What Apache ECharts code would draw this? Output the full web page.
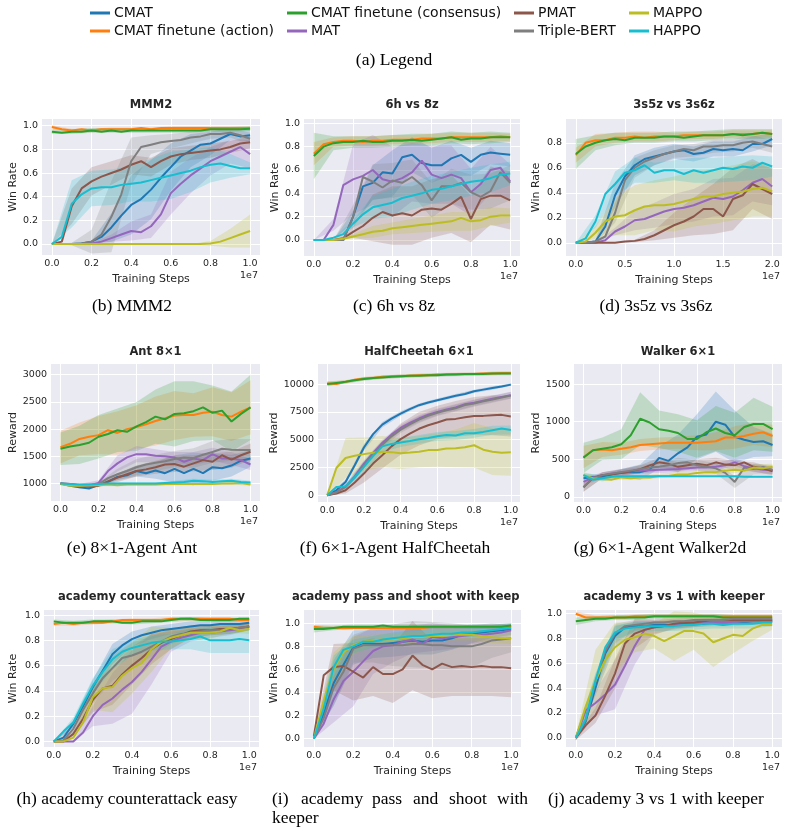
<!DOCTYPE html>
<html><head><meta charset="utf-8">
<script src="https://cdn.jsdelivr.net/npm/echarts@6/dist/echarts.min.js"></script>
<style>html,body{margin:0;padding:0;background:#fff}#c{width:788px;height:834px}</style>
</head><body><div id="c"></div>
<script>
// ---------- categories / ticks ----------
const seriesNames = ['CMAT','CMAT finetune (action)','CMAT finetune (consensus)','MAT','PMAT','Triple-BERT','MAPPO','HAPPO'];
const stepsShort = [0,0.05,0.1,0.15,0.2,0.25,0.3,0.35,0.4,0.45,0.5,0.55,0.6,0.65,0.7,0.75,0.8,0.85,0.9,0.95,1.0];
const stepsLong  = [0,0.1,0.2,0.3,0.4,0.5,0.6,0.7,0.8,0.9,1.0,1.1,1.2,1.3,1.4,1.5,1.6,1.7,1.8,1.9,2.0];
const xTicksShort = [0,0.2,0.4,0.6,0.8,1.0];
const xTicksLong = [0,0.5,1.0,1.5,2.0];
const winTicks = [0,0.2,0.4,0.6,0.8,1.0];
const winTicks08 = [0,0.2,0.4,0.6,0.8];
const antTicks = [1000,1500,2000,2500,3000];
const cheetahTicks = [0,2500,5000,7500,10000];
const walkerTicks = [0,500,1000,1500];

// ---------- series values (order = seriesNames) ----------
const mmm2Mean = [
 [0,0,0,0.005,0.02,0.06,0.14,0.24,0.33,0.38,0.46,0.56,0.65,0.74,0.79,0.84,0.85,0.89,0.93,0.91,0.92],
 [0.99,0.97,0.96,0.97,0.96,0.97,0.97,0.97,0.97,0.98,0.97,0.98,0.98,0.98,0.98,0.98,0.98,0.98,0.98,0.98,0.98],
 [0.95,0.94,0.95,0.95,0.96,0.95,0.96,0.95,0.96,0.96,0.96,0.96,0.96,0.96,0.96,0.96,0.97,0.97,0.97,0.97,0.975],
 [0,0,0,0,0.005,0.02,0.05,0.08,0.11,0.1,0.15,0.25,0.43,0.51,0.58,0.64,0.7,0.74,0.78,0.82,0.76],
 [0,0.02,0.32,0.47,0.53,0.57,0.6,0.63,0.67,0.7,0.65,0.7,0.74,0.76,0.77,0.78,0.79,0.8,0.82,0.85,0.86],
 [0,0,0,0.005,0.02,0.08,0.23,0.42,0.7,0.82,0.84,0.86,0.87,0.88,0.9,0.91,0.93,0.93,0.94,0.92,0.89],
 [0,0,0,0,0,0,0,0,0,0,0,0,0,0,0,0,0.005,0.02,0.05,0.08,0.11],
 [0,0.06,0.34,0.42,0.47,0.48,0.48,0.5,0.51,0.52,0.54,0.56,0.58,0.6,0.62,0.65,0.67,0.68,0.66,0.64,0.64]
];
const mmm2Sd = [
 [0,0,0.01,0.12,0.25,0.25,0.2,0.14,0.1,0.05,0.05],
 [0.015,0.015,0.015,0.015,0.015,0.015,0.015,0.015,0.015,0.015,0.015],
 [0.02,0.02,0.02,0.02,0.02,0.02,0.02,0.02,0.02,0.02,0.02],
 [0,0,0.005,0.03,0.08,0.1,0.18,0.15,0.12,0.1,0.12],
 [0,0.15,0.12,0.1,0.08,0.08,0.07,0.06,0.06,0.05,0.05],
 [0,0.01,0.1,0.3,0.2,0.08,0.06,0.05,0.04,0.04,0.05],
 [0,0,0,0,0,0,0,0,0.02,0.08,0.14],
 [0,0.2,0.15,0.15,0.15,0.18,0.2,0.18,0.15,0.1,0.05]
];
const h6z8Mean = [
 [0,0,0,0,0.2,0.46,0.49,0.58,0.57,0.71,0.73,0.66,0.64,0.64,0.7,0.73,0.67,0.73,0.75,0.74,0.73],
 [0.74,0.82,0.84,0.85,0.85,0.84,0.85,0.85,0.86,0.86,0.86,0.87,0.87,0.87,0.88,0.88,0.88,0.88,0.88,0.89,0.88],
 [0.72,0.8,0.83,0.84,0.84,0.85,0.84,0.84,0.85,0.85,0.86,0.85,0.86,0.87,0.88,0.86,0.87,0.87,0.88,0.88,0.88],
 [0,0,0.13,0.47,0.52,0.55,0.6,0.52,0.5,0.53,0.58,0.68,0.56,0.53,0.56,0.53,0.41,0.48,0.6,0.62,0.5],
 [0,0,0,0.015,0.07,0.12,0.19,0.24,0.21,0.23,0.21,0.26,0.27,0.26,0.31,0.37,0.18,0.35,0.38,0.38,0.34],
 [0,0,0,0,0.2,0.54,0.5,0.45,0.51,0.49,0.54,0.47,0.34,0.46,0.46,0.49,0.41,0.37,0.42,0.58,0.49],
 [0,0,0,0.01,0.03,0.05,0.07,0.08,0.1,0.11,0.12,0.13,0.14,0.15,0.16,0.19,0.16,0.17,0.2,0.21,0.21],
 [0,0,0.02,0.05,0.14,0.22,0.28,0.3,0.32,0.36,0.38,0.4,0.43,0.44,0.46,0.48,0.5,0.51,0.53,0.56,0.57]
];
const h6z8Sd = [
 [0,0,0.05,0.15,0.2,0.15,0.15,0.15,0.12,0.1,0.1],
 [0.1,0.04,0.04,0.04,0.04,0.04,0.04,0.04,0.04,0.04,0.03],
 [0.2,0.06,0.05,0.05,0.05,0.05,0.05,0.05,0.05,0.05,0.04],
 [0,0.05,0.3,0.3,0.3,0.25,0.25,0.25,0.2,0.2,0.15],
 [0,0,0.05,0.2,0.25,0.25,0.25,0.25,0.2,0.25,0.25],
 [0,0,0.1,0.15,0.15,0.15,0.15,0.15,0.15,0.15,0.15],
 [0,0,0.02,0.05,0.05,0.06,0.07,0.08,0.08,0.08,0.06],
 [0,0,0.03,0.1,0.12,0.12,0.12,0.12,0.12,0.12,0.1]
];
const s5z6Mean = [
 [0,0,0.01,0.13,0.38,0.53,0.62,0.67,0.69,0.71,0.73,0.74,0.71,0.72,0.75,0.74,0.75,0.74,0.79,0.79,0.83],
 [0.70,0.80,0.82,0.82,0.84,0.84,0.85,0.84,0.85,0.85,0.85,0.86,0.86,0.86,0.86,0.86,0.87,0.87,0.87,0.88,0.87],
 [0.71,0.77,0.80,0.82,0.83,0.82,0.84,0.84,0.84,0.85,0.85,0.84,0.85,0.86,0.86,0.86,0.87,0.86,0.87,0.88,0.87],
 [0,0,0,0.02,0.09,0.13,0.18,0.19,0.22,0.25,0.27,0.28,0.3,0.33,0.36,0.35,0.37,0.42,0.48,0.51,0.45],
 [0,0,0,0,0,0.01,0.015,0.03,0.06,0.1,0.14,0.17,0.21,0.27,0.27,0.21,0.35,0.38,0.47,0.43,0.39],
 [0,0,0.01,0.05,0.24,0.5,0.6,0.65,0.68,0.71,0.73,0.75,0.74,0.77,0.77,0.78,0.78,0.8,0.81,0.79,0.77],
 [0,0.01,0.08,0.17,0.21,0.22,0.26,0.29,0.3,0.3,0.31,0.33,0.35,0.37,0.37,0.39,0.4,0.41,0.43,0.44,0.41],
 [0,0.035,0.17,0.39,0.47,0.56,0.58,0.62,0.56,0.58,0.58,0.55,0.58,0.56,0.58,0.6,0.59,0.61,0.6,0.64,0.61]
];
const s5z6Sd = [
 [0,0.01,0.1,0.08,0.07,0.06,0.06,0.06,0.06,0.06,0.05],
 [0.06,0.05,0.04,0.04,0.04,0.03,0.03,0.03,0.03,0.03,0.03],
 [0.12,0.06,0.05,0.04,0.04,0.04,0.04,0.04,0.04,0.04,0.04],
 [0,0,0.03,0.08,0.1,0.12,0.13,0.15,0.15,0.15,0.15],
 [0,0,0,0.01,0.04,0.1,0.15,0.2,0.25,0.2,0.2],
 [0,0.01,0.08,0.08,0.06,0.05,0.05,0.05,0.05,0.05,0.05],
 [0,0.05,0.15,0.2,0.2,0.22,0.22,0.22,0.22,0.22,0.2],
 [0,0.05,0.1,0.1,0.08,0.08,0.1,0.1,0.1,0.1,0.08]
];
const antMean = [
 [1000,960,930,910,970,1030,1120,1150,1230,1190,1240,1190,1270,1190,1270,1190,1300,1280,1330,1420,1460],
 [1670,1730,1820,1860,1890,1980,1930,2000,2040,2090,2150,2200,2250,2260,2260,2300,2320,2260,2230,2320,2400],
 [1640,1680,1710,1750,1860,1910,1980,1950,2050,2130,2230,2180,2280,2290,2330,2400,2300,2340,2140,2280,2400],
 [1000,990,970,960,1010,1230,1370,1480,1540,1540,1510,1500,1480,1400,1460,1430,1540,1460,1460,1430,1350],
 [1000,990,960,940,960,1040,1110,1170,1230,1260,1300,1350,1360,1310,1370,1430,1400,1520,1440,1520,1585],
 [1000,980,960,950,990,1100,1170,1230,1300,1350,1380,1410,1450,1480,1470,1530,1580,1640,1620,1615,1615],
 [990,960,960,970,970,980,970,980,980,980,980,990,990,990,990,990,990,1000,1000,1010,980],
 [1000,990,980,980,990,1000,1000,1000,1000,1000,1000,1010,1020,1030,1050,1040,1030,1040,1050,1030,1020]
];
const antSd = [
 [10,20,30,60,100,150,250,300,250,200,150],
 [300,300,350,400,400,450,450,400,450,450,500],
 [300,350,400,400,450,500,600,550,500,550,600],
 [10,20,50,150,150,120,100,120,120,120,100],
 [10,30,30,80,100,120,150,150,150,150,150],
 [10,30,30,100,150,150,150,180,200,200,200],
 [20,20,20,20,20,20,20,20,20,20,20],
 [10,20,20,20,20,20,30,40,40,40,30]
];
const cheetahMean = [
 [0,450,1200,2700,4300,5500,6350,6900,7350,7750,8100,8350,8550,8750,8950,9100,9350,9500,9650,9780,9950],
 [10050,10000,10200,10400,10500,10550,10650,10700,10700,10750,10800,10800,10850,10850,10900,10900,10900,10950,10950,11000,11000],
 [10000,10100,10200,10350,10450,10550,10600,10650,10700,10750,10750,10800,10800,10850,10850,10900,10900,10900,10950,10950,10950],
 [0,270,800,1700,2850,3800,4700,5450,6050,6500,6900,7250,7500,7720,7900,8180,8320,8500,8680,8850,9000],
 [0,150,450,1150,1950,2850,3600,4400,5050,5550,5980,6300,6550,6820,6870,7020,7130,7140,7200,7230,7080],
 [0,250,750,1600,2700,3650,4550,5300,5900,6380,6800,7150,7420,7650,7830,8120,8260,8450,8620,8800,8980],
 [0,2450,3350,3550,3700,3830,3920,3880,3770,3840,3920,4060,4070,4200,4220,4320,4500,4100,3920,3830,3860],
 [0,750,800,1600,2550,3550,4400,4620,4750,4880,5030,5150,5300,5420,5370,5570,5570,5700,5850,6000,5870]
];
const cheetahSd = [
 [50,200,300,250,200,150,150,150,150,150,100],
 [200,150,150,150,150,150,150,150,150,150,150],
 [200,150,150,150,150,150,150,150,150,150,150],
 [50,200,300,300,300,300,300,300,300,300,300],
 [50,300,800,1200,1400,1500,1500,1600,1700,1800,1800],
 [50,200,300,300,300,300,300,300,300,300,300],
 [50,1800,1500,1400,1400,1400,1500,1700,2000,2100,2100],
 [50,200,500,500,400,400,400,400,400,400,400]
];
const walkerMean = [
 [250,265,270,300,320,330,330,360,520,480,580,660,800,830,1000,960,800,760,730,740,690],
 [530,620,630,620,640,660,690,700,710,720,720,720,720,730,740,790,790,810,840,860,810],
 [520,620,640,660,700,820,1040,990,900,880,850,770,770,860,910,850,820,930,970,970,900],
 [200,260,290,310,330,340,350,355,360,365,370,380,390,390,400,420,460,410,380,360,355],
 [130,250,290,300,320,340,370,420,460,440,400,420,440,420,460,430,420,460,400,380,340],
 [130,250,290,310,330,350,370,390,400,420,450,460,420,400,380,320,200,390,370,400,360],
 [290,250,240,230,260,250,260,260,280,280,300,300,320,330,330,350,360,350,390,380,400],
 [290,230,250,270,275,275,275,275,275,275,275,275,275,275,275,275,275,270,270,270,270]
];
const walkerSd = [
 [50,30,50,100,150,250,300,400,350,200,150],
 [150,100,80,80,80,80,100,120,150,150,150],
 [200,150,200,350,250,250,250,300,300,350,300],
 [50,40,40,40,40,40,40,50,50,50,50],
 [60,40,40,50,60,60,60,60,60,60,50],
 [60,40,40,50,60,70,70,70,80,70,60],
 [40,30,30,30,30,30,30,30,40,40,40],
 [30,40,10,10,10,10,10,10,10,10,10]
];
const counterMean = [
 [0,0.03,0.14,0.28,0.43,0.56,0.69,0.76,0.81,0.84,0.86,0.88,0.89,0.9,0.91,0.92,0.92,0.93,0.93,0.93,0.94],
 [0.93,0.94,0.93,0.94,0.94,0.94,0.95,0.96,0.96,0.96,0.96,0.96,0.97,0.97,0.97,0.97,0.97,0.97,0.97,0.96,0.96],
 [0.95,0.94,0.94,0.94,0.95,0.95,0.95,0.94,0.94,0.95,0.95,0.95,0.96,0.97,0.97,0.96,0.96,0.96,0.96,0.97,0.97],
 [0,0,0,0.07,0.2,0.29,0.34,0.41,0.47,0.55,0.65,0.75,0.79,0.82,0.84,0.86,0.86,0.87,0.88,0.89,0.91],
 [0,0,0.06,0.18,0.33,0.42,0.44,0.53,0.6,0.66,0.73,0.78,0.81,0.84,0.87,0.88,0.88,0.89,0.89,0.9,0.91],
 [0,0.01,0.1,0.25,0.38,0.5,0.58,0.66,0.68,0.71,0.75,0.79,0.83,0.85,0.86,0.87,0.88,0.88,0.89,0.9,0.91],
 [0,0,0.03,0.15,0.35,0.42,0.43,0.52,0.58,0.62,0.73,0.79,0.82,0.84,0.86,0.86,0.86,0.87,0.9,0.88,0.89],
 [0,0.08,0.15,0.3,0.44,0.55,0.65,0.71,0.74,0.76,0.78,0.79,0.79,0.8,0.81,0.83,0.8,0.8,0.8,0.81,0.8]
];
const counterSd = [
 [0,0.03,0.06,0.08,0.06,0.05,0.04,0.04,0.03,0.03,0.03],
 [0.015,0.015,0.015,0.015,0.015,0.015,0.015,0.015,0.015,0.015,0.015],
 [0.015,0.015,0.015,0.015,0.015,0.015,0.015,0.015,0.015,0.015,0.015],
 [0,0,0.08,0.2,0.25,0.2,0.08,0.05,0.04,0.04,0.03],
 [0,0.02,0.1,0.15,0.15,0.12,0.08,0.05,0.04,0.04,0.03],
 [0,0.03,0.08,0.1,0.1,0.08,0.06,0.04,0.04,0.04,0.03],
 [0,0.01,0.1,0.2,0.2,0.18,0.08,0.05,0.05,0.04,0.04],
 [0,0.04,0.06,0.08,0.06,0.06,0.06,0.08,0.1,0.1,0.1]
];
const passMean = [
 [0,0.22,0.48,0.64,0.79,0.83,0.82,0.82,0.83,0.84,0.85,0.84,0.85,0.85,0.87,0.9,0.91,0.92,0.93,0.94,0.95],
 [0.97,0.96,0.96,0.96,0.96,0.96,0.96,0.96,0.96,0.96,0.96,0.96,0.97,0.97,0.97,0.97,0.97,0.97,0.97,0.97,0.97],
 [0.95,0.95,0.96,0.97,0.97,0.97,0.97,0.98,0.97,0.97,0.97,0.97,0.97,0.97,0.97,0.97,0.97,0.97,0.97,0.97,0.98],
 [0,0.13,0.34,0.5,0.58,0.67,0.76,0.8,0.81,0.84,0.86,0.82,0.88,0.87,0.88,0.89,0.9,0.9,0.91,0.92,0.94],
 [0.02,0.55,0.62,0.63,0.58,0.53,0.62,0.56,0.56,0.6,0.72,0.64,0.6,0.65,0.62,0.63,0.62,0.63,0.62,0.62,0.61],
 [0,0.18,0.44,0.58,0.78,0.81,0.81,0.81,0.81,0.81,0.82,0.82,0.81,0.81,0.8,0.8,0.8,0.82,0.85,0.86,0.87],
 [0,0.33,0.6,0.75,0.81,0.84,0.85,0.86,0.86,0.87,0.88,0.88,0.89,0.89,0.9,0.9,0.9,0.89,0.88,0.87,0.87],
 [0,0.26,0.62,0.77,0.8,0.84,0.84,0.86,0.87,0.88,0.89,0.89,0.9,0.91,0.91,0.92,0.92,0.93,0.94,0.95,0.96]
];
const passSd = [
 [0,0.2,0.15,0.12,0.12,0.12,0.12,0.1,0.08,0.06,0.05],
 [0.015,0.015,0.015,0.015,0.015,0.015,0.015,0.015,0.015,0.015,0.015],
 [0.03,0.02,0.02,0.02,0.02,0.02,0.02,0.02,0.02,0.02,0.02],
 [0,0.2,0.3,0.2,0.15,0.12,0.12,0.1,0.08,0.06,0.05],
 [0.02,0.2,0.25,0.25,0.25,0.3,0.25,0.25,0.25,0.25,0.25],
 [0,0.15,0.12,0.15,0.18,0.2,0.2,0.2,0.18,0.15,0.12],
 [0,0.15,0.08,0.05,0.05,0.05,0.05,0.05,0.05,0.05,0.05],
 [0,0.1,0.06,0.05,0.05,0.05,0.05,0.04,0.04,0.04,0.03]
];
const keeperMean = [
 [0,0.13,0.4,0.68,0.82,0.89,0.9,0.9,0.91,0.91,0.91,0.92,0.92,0.92,0.93,0.93,0.93,0.93,0.94,0.94,0.94],
 [1.0,0.97,0.97,0.97,0.97,0.97,0.98,0.98,0.98,0.98,0.98,0.98,0.98,0.98,0.98,0.98,0.98,0.98,0.98,0.98,0.98],
 [0.94,0.95,0.96,0.96,0.97,0.97,0.97,0.97,0.98,0.98,0.98,0.98,0.98,0.98,0.98,0.97,0.97,0.97,0.97,0.97,0.97],
 [0,0.22,0.28,0.35,0.43,0.58,0.74,0.87,0.89,0.9,0.91,0.91,0.92,0.93,0.93,0.93,0.93,0.94,0.94,0.94,0.94],
 [0,0.1,0.18,0.34,0.52,0.76,0.84,0.87,0.89,0.9,0.92,0.93,0.93,0.94,0.95,0.95,0.95,0.95,0.95,0.95,0.95],
 [0,0.14,0.45,0.7,0.84,0.9,0.91,0.92,0.93,0.93,0.94,0.94,0.95,0.95,0.95,0.95,0.96,0.96,0.96,0.96,0.96],
 [0,0.25,0.46,0.63,0.73,0.79,0.81,0.84,0.82,0.78,0.82,0.86,0.86,0.84,0.77,0.8,0.83,0.82,0.88,0.91,0.91],
 [0,0.15,0.46,0.73,0.85,0.88,0.89,0.9,0.9,0.9,0.9,0.91,0.91,0.92,0.92,0.91,0.92,0.92,0.92,0.93,0.93]
];
const keeperSd = [
 [0.02,0.06,0.08,0.04,0.03,0.03,0.03,0.02,0.02,0.02,0.02],
 [0.015,0.015,0.015,0.015,0.015,0.015,0.015,0.015,0.015,0.015,0.015],
 [0.03,0.02,0.02,0.02,0.02,0.02,0.02,0.02,0.02,0.02,0.02],
 [0.02,0.1,0.2,0.15,0.05,0.04,0.03,0.03,0.03,0.03,0.03],
 [0.02,0.06,0.12,0.12,0.06,0.04,0.03,0.02,0.02,0.02,0.02],
 [0.02,0.06,0.08,0.04,0.03,0.02,0.02,0.02,0.02,0.02,0.02],
 [0.02,0.25,0.2,0.12,0.1,0.2,0.15,0.2,0.15,0.1,0.04],
 [0.02,0.06,0.06,0.04,0.04,0.04,0.04,0.04,0.04,0.04,0.03]
];

// ---------- styling / layout ----------
const colors = ['#1f77b4','#ff7f0e','#2ca02c','#9467bd','#8c564b','#7f7f7f','#bcbd22','#17becf'];
const TXT = '#262626';
const panels = [
 {title:'MMM2', mean:mmm2Mean, sd:mmm2Sd, steps:stepsShort, xt:xTicksShort, yt:winTicks, yName:'Win Rate', dec:1,
  g:{left:42,top:119,width:218,height:136}, x:[-0.05,1.05], y:[-0.093,1.057], yGap:17, ty:105},
 {title:'6h vs 8z', mean:h6z8Mean, sd:h6z8Sd, steps:stepsShort, xt:xTicksShort, yt:winTicks, yName:'Win Rate', dec:1,
  g:{left:304,top:119,width:216,height:137}, x:[-0.05,1.05], y:[-0.137,1.037], yGap:21, ty:105},
 {title:'3s5z vs 3s6z', mean:s5z6Mean, sd:s5z6Sd, steps:stepsLong, xt:xTicksLong, yt:winTicks08, yName:'Win Rate', dec:1,
  g:{left:566,top:119,width:216,height:137}, x:[-0.1,2.1], y:[-0.106,0.99], yGap:24, ty:105},
 {title:'Ant 8×1', mean:antMean, sd:antSd, steps:stepsShort, xt:xTicksShort, yt:antTicks, yName:'Reward', dec:0,
  g:{left:51,top:364,width:209,height:137}, x:[-0.05,1.05], y:[679,3197], yGap:32, ty:352},
 {title:'HalfCheetah 6×1', mean:cheetahMean, sd:cheetahSd, steps:stepsShort, xt:xTicksShort, yt:cheetahTicks, yName:'Reward', dec:0,
  g:{left:318,top:364,width:202,height:138}, x:[-0.05,1.05], y:[-605,11805], yGap:35, ty:352},
 {title:'Walker 6×1', mean:walkerMean, sd:walkerSd, steps:stepsShort, xt:xTicksShort, yt:walkerTicks, yName:'Reward', dec:0,
  g:{left:574,top:364,width:208,height:138}, x:[-0.05,1.05], y:[-67,1767], yGap:32, ty:352},
 {title:'academy counterattack easy', mean:counterMean, sd:counterSd, steps:stepsShort, xt:xTicksShort, yt:winTicks, yName:'Win Rate', dec:1,
  g:{left:44,top:610,width:215,height:137}, x:[-0.05,1.05], y:[-0.044,1.04], yGap:25, ty:597},
 {title:'academy pass and shoot with keeper', mean:passMean, sd:passSd, steps:stepsShort, xt:xTicksShort, yt:winTicks, yName:'Win Rate', dec:1,
  g:{left:304,top:610,width:217,height:137}, x:[-0.05,1.05], y:[-0.072,1.115], yGap:24, ty:597, clipTitle:true},
 {title:'academy 3 vs 1 with keeper', mean:keeperMean, sd:keeperSd, steps:stepsShort, xt:xTicksShort, yt:winTicks, yName:'Win Rate', dec:1,
  g:{left:566,top:610,width:216,height:137}, x:[-0.05,1.05], y:[-0.074,1.03], yGap:24, ty:597}
];

const grids=[], xAxes=[], yAxes=[], series=[], titles=[], graphics=[];
panels.forEach((p,i)=>{
  grids.push(Object.assign({show:true, backgroundColor:'#EAEAF2', borderWidth:0}, p.g));
  xAxes.push({type:'value', gridIndex:i, min:p.x[0], max:p.x[1],
    axisLine:{show:false}, axisTick:{show:false, customValues:p.xt},
    axisLabel:{customValues:p.xt, formatter:v=>v.toFixed(1), color:TXT, fontSize:9.5, margin:4, fontFamily:'DejaVu Sans'},
    splitLine:{show:true, lineStyle:{color:'#ffffff', width:1}},
    name:'Training Steps', nameLocation:'middle', nameGap:19,
    nameTextStyle:{fontSize:11, color:TXT, fontFamily:'DejaVu Sans'}});
  yAxes.push({type:'value', gridIndex:i, min:p.y[0], max:p.y[1],
    axisLine:{show:false}, axisTick:{show:false, customValues:p.yt},
    axisLabel:{customValues:p.yt, formatter:v=>p.dec? v.toFixed(1): String(Math.round(v)), color:TXT, fontSize:9.5, margin:4, fontFamily:'DejaVu Sans'},
    splitLine:{show:true, lineStyle:{color:'#ffffff', width:1}},
    name:p.yName, nameLocation:'middle', nameGap:p.yGap,
    nameTextStyle:{fontSize:11, color:TXT, fontFamily:'DejaVu Sans'}});
  const cx = p.g.left + p.g.width/2;
  if (p.clipTitle) {
    titles.push({text:p.title, left:292, top:p.ty, textAlign:'left', textVerticalAlign:'middle', padding:0,
      textStyle:{fontSize:11.5, fontWeight:'bold', color:TXT, fontFamily:'DejaVu Sans', width:236, overflow:'truncate', ellipsis:''}});
  } else {
    titles.push({text:p.title, left:cx, top:p.ty, textAlign:'center', textVerticalAlign:'middle', padding:0,
      textStyle:{fontSize:11.5, fontWeight:'bold', color:TXT, fontFamily:'DejaVu Sans'}});
  }
  graphics.push({type:'text', x:p.g.left+p.g.width-2, y:p.g.top+p.g.height+21,
    style:{text:'1e7', fill:TXT, font:'9.5px "DejaVu Sans"', textAlign:'right', textVerticalAlign:'middle'}});
  // shaded bands (mean ± spread)
  p.mean.forEach((m,s)=>{
    const sd = p.sd[s];
    series.push({type:'custom', name:seriesNames[s]+' band', xAxisIndex:i, yAxisIndex:i, silent:true, z:1,
      data:[[ (p.x[0]+p.x[1])/2, (p.y[0]+p.y[1])/2 ]], encode:{x:0,y:1},
      renderItem:(params, api)=>{
        const up=[], lo=[];
        for (let k=0;k<sd.length;k++){
          const xv = p.steps[2*k], mv = m[2*k];
          up.push(api.coord([xv, mv+sd[k]]));
          lo.push(api.coord([xv, mv-sd[k]]));
        }
        const cs = params.coordSys;
        return {type:'polygon', shape:{points:up.concat(lo.reverse())},
          style:{fill:colors[s], opacity:0.22},
          clipPath:{type:'rect', shape:{x:cs.x, y:cs.y, width:cs.width, height:cs.height}}};
      }, animation:false});
  });
  // mean lines
  p.mean.forEach((m,s)=>{
    series.push({type:'line', name:seriesNames[s], xAxisIndex:i, yAxisIndex:i, z:2,
      data:p.steps.map((x,k)=>[x, m[k]]), showSymbol:false, symbol:'none',
      lineStyle:{width:2, color:colors[s]}, itemStyle:{color:colors[s]}, animation:false});
  });
});

// legend (4 columns x 2 rows, column-major like matplotlib)
const legendX = [90, 287, 514, 629];
const legendTop = [6, 24];
const legends = seriesNames.map((n,i)=>({
  data:[{name:n, itemStyle:{color:colors[i]}}], left:legendX[Math.floor(i/2)], top:legendTop[i%2],
  icon:'rect', itemWidth:20, itemHeight:3, padding:0, selectedMode:false,
  textStyle:{fontSize:14, color:'#111', fontFamily:'DejaVu Sans', padding:[0,0,0,-1]}
}));

// captions
const capFont = '17.5px "Liberation Serif"';
const captions = [
  ['(a) Legend',394,60], ['(b) MMM2',132,306], ['(c) 6h vs 8z',394,306], ['(d) 3s5z vs 3s6z',656,306],
  ['(e) 8×1-Agent Ant',132,548], ['(f) 6×1-Agent HalfCheetah',395,548], ['(g) 6×1-Agent Walker2d',660,548],
  ['(h) academy counterattack easy',127,799], ['(j) academy 3 vs 1 with keeper',656,799]
];
captions.forEach(c=>graphics.push({type:'text', x:c[1], y:c[2],
  style:{text:c[0], fill:'#000', font:capFont, textAlign:'center', textVerticalAlign:'middle'}}));
const capIWords = [['(i)',272],['academy',301],['pass',372],['and',413],['shoot',449],['with',497]];
capIWords.forEach(w=>graphics.push({type:'text', x:w[1], y:799,
  style:{text:w[0], fill:'#000', font:capFont, textAlign:'left', textVerticalAlign:'middle'}}));
graphics.push({type:'text', x:272, y:818, style:{text:'keeper', fill:'#000', font:capFont, textAlign:'left', textVerticalAlign:'middle'}});

const chart = echarts.init(document.getElementById('c'), null, {renderer:'canvas'});
chart.setOption({
  animation:false, backgroundColor:'#ffffff',
  title:titles, legend:legends, grid:grids, xAxis:xAxes, yAxis:yAxes, series:series, graphic:graphics
});
</script></body></html>
